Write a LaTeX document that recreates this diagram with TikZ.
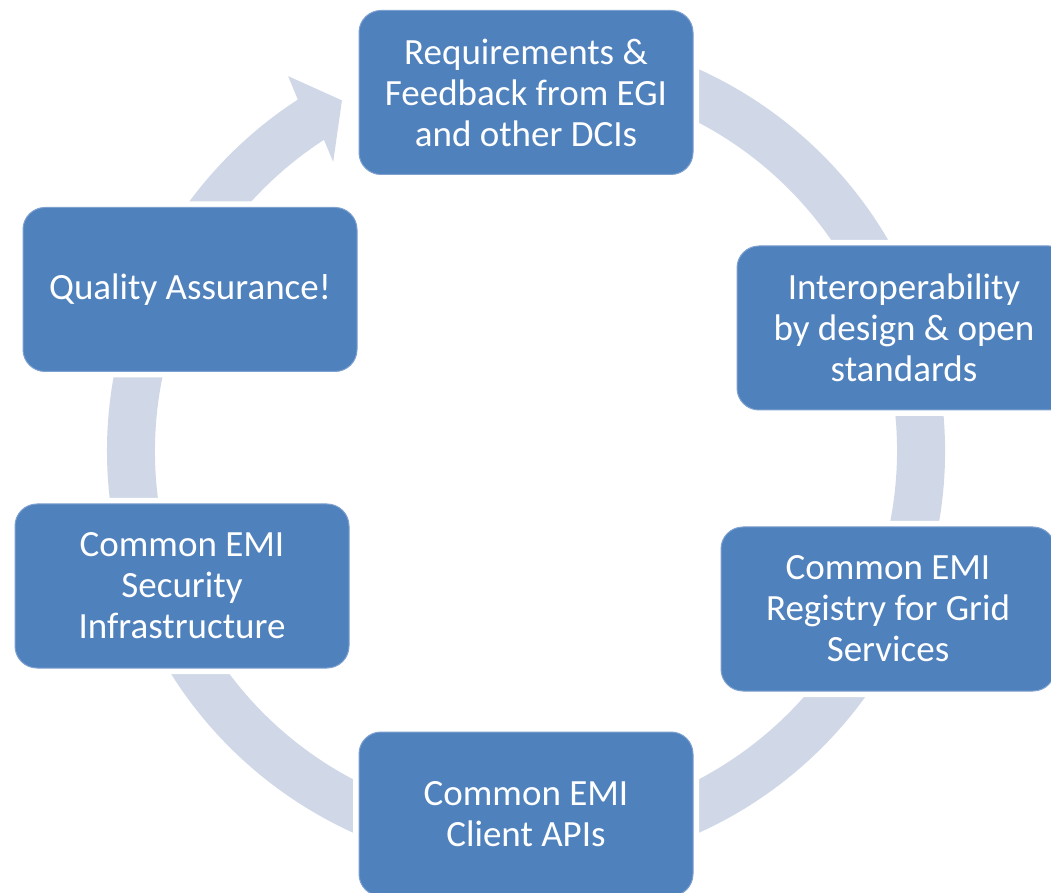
\documentclass[tikz,border=0pt]{standalone}
\usepackage{fontspec}
\setmainfont{Carlito}
\definecolor{boxblue}{HTML}{4F81BD}
\definecolor{boxedge}{HTML}{7DA0CF}
\definecolor{ringcol}{HTML}{D0D8E8}
\tikzset{
  cbox/.style={rectangle, rounded corners=22pt, fill=boxblue, draw=boxedge, line width=1pt,
    minimum width=334pt, minimum height=164pt, inner sep=0pt, align=center,
    text=white, font=\fontsize{37}{41}\selectfont,
    preaction={draw=white, line width=12pt}}
}
\begin{document}
\begin{tikzpicture}[x=1pt,y=1pt]
\useasboundingbox (0,0) rectangle (1051,892);
\clip (0,0) rectangle (1051,892);
\fill[white] (0,0) rectangle (1051,892);
% ring with arrow head
\begin{scope}[shift={(526,441)}]
\fill[ringcol] (100:419) arc[start angle=100, end angle=-237, radius=419]
  -- (-237.6:444) -- (-242.3:396) -- (-236.3:347.5) -- (-237:371)
  arc[start angle=-237, end angle=100, radius=371] -- cycle;
\end{scope}
% boxes
\node[cbox] (req) at (526,799.5) {Requirements \&\\Feedback from EGI\\and other DCIs};
\node[cbox] (inter) at (904,564) {Interoperability\\by design \& open\\standards};
\node[cbox] (reg) at (888,283) {Common EMI\\Registry for Grid\\Services};
\node[cbox] (api) at (526,78) {Common EMI\\Client APIs};
\node[cbox] (sec) at (182,306) {Common EMI\\Security\\Infrastructure};
\node[cbox] (qa) at (190,602.5) {Quality Assurance!};
\end{tikzpicture}
\end{document}
